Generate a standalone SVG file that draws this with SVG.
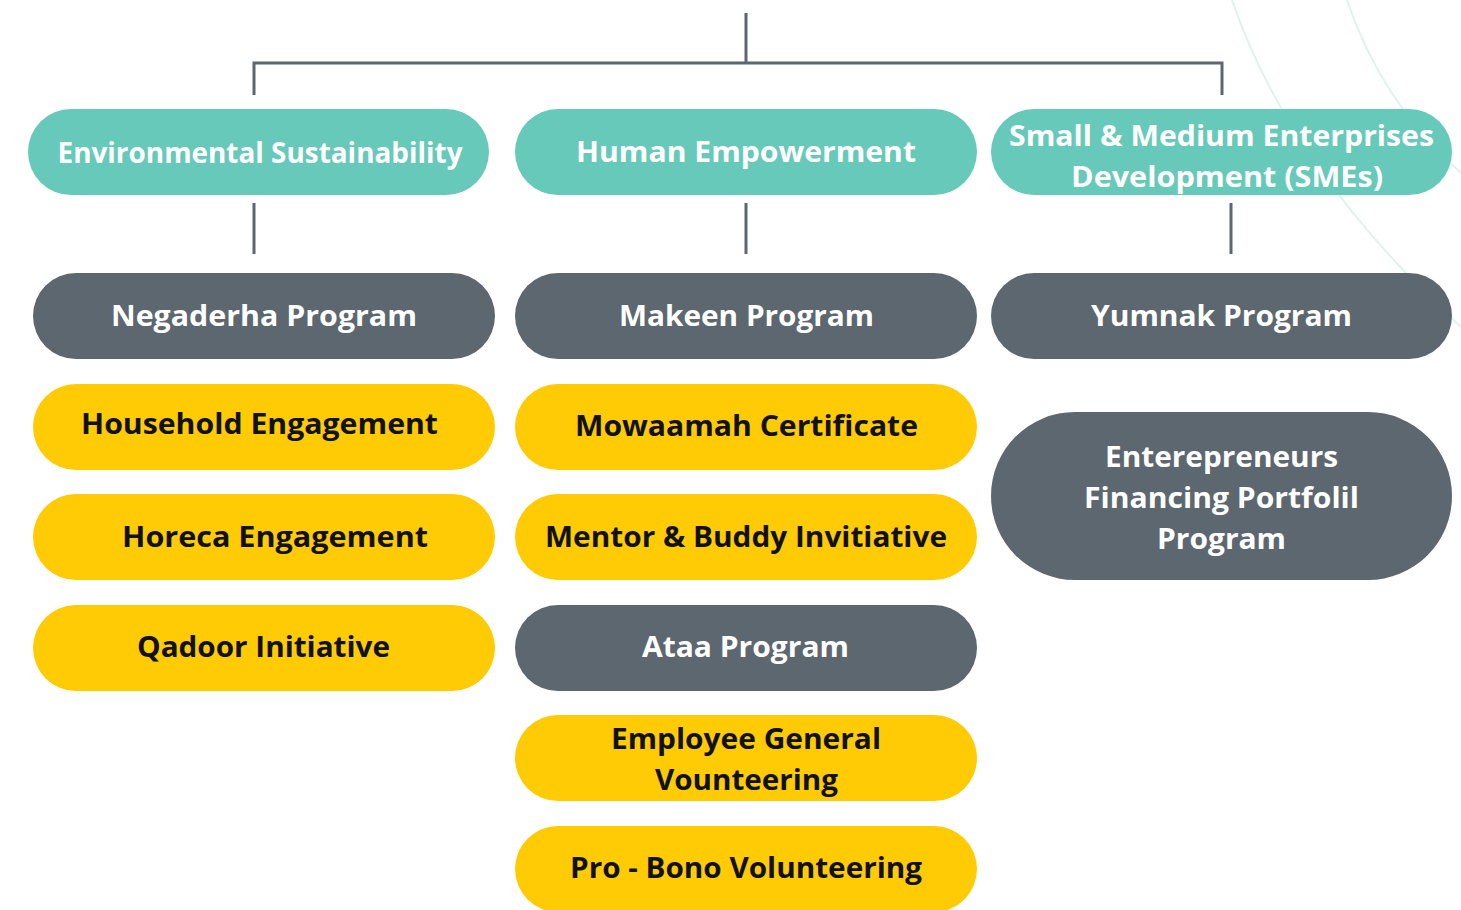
<svg xmlns="http://www.w3.org/2000/svg" width="1461" height="910" viewBox="0 0 1461 910">
<style>
.teal{fill:#67c9b9}
.gray{fill:#5d6770}
.yel{fill:#ffcb05}
text{font-family:"Open Sans","Noto Sans","Liberation Sans",sans-serif;font-weight:700;font-size:28px;text-anchor:middle}
.w{fill:#ffffff}
.k{fill:#111111}
.conn{stroke:#5d6770;stroke-width:3;fill:none}
.arc{stroke:#dff3ee;stroke-width:2;fill:none}
</style>
<rect width="1461" height="910" fill="#ffffff"/>
<path class="arc" d="M1232,0 Q1290,170 1461,327"/>
<path class="arc" d="M1347,0 Q1380,100 1461,173"/>
<g id="connectors">
<path class="conn" d="M746,13 V63 M254,95 V63 H1222 V95"/>
<path class="conn" d="M254,203 V254 M746,203 V254 M1231,203 V254"/>
</g>
<g id="n-env"><rect class="teal" x="28" y="109" width="461" height="86" rx="43"/><text class="w" x="260" y="163" textLength="405" lengthAdjust="spacingAndGlyphs">Environmental Sustainability</text></g>
<g id="n-human"><rect class="teal" x="515" y="109" width="462" height="86" rx="43"/><text class="w" x="746" y="162" textLength="340" lengthAdjust="spacingAndGlyphs">Human Empowerment</text></g>
<g id="n-sme"><rect class="teal" x="991" y="109" width="461" height="86" rx="43"/><text class="w" x="1221.5" y="146" textLength="425" lengthAdjust="spacingAndGlyphs">Small &amp; Medium Enterprises</text><text class="w" x="1227" y="187" textLength="312" lengthAdjust="spacingAndGlyphs">Development (SMEs)</text></g>
<g id="n-negaderha"><rect class="gray" x="33" y="273" width="462" height="86" rx="43"/><text class="w" x="264" y="326" textLength="306" lengthAdjust="spacingAndGlyphs">Negaderha Program</text></g>
<g id="n-makeen"><rect class="gray" x="515" y="273" width="462" height="86" rx="43"/><text class="w" x="746.5" y="326" textLength="255" lengthAdjust="spacingAndGlyphs">Makeen Program</text></g>
<g id="n-yumnak"><rect class="gray" x="991" y="273" width="461" height="86" rx="43"/><text class="w" x="1221.5" y="326" textLength="261" lengthAdjust="spacingAndGlyphs">Yumnak Program</text></g>
<g id="n-household"><rect class="yel" x="33" y="384" width="462" height="86" rx="43"/><text class="k" x="259.5" y="434" textLength="357" lengthAdjust="spacingAndGlyphs">Household Engagement</text></g>
<g id="n-horeca"><rect class="yel" x="33" y="494" width="462" height="86" rx="43"/><text class="k" x="275" y="547" textLength="306" lengthAdjust="spacingAndGlyphs">Horeca Engagement</text></g>
<g id="n-qadoor"><rect class="yel" x="33" y="605" width="462" height="86" rx="43"/><text class="k" x="263.5" y="657" textLength="253" lengthAdjust="spacingAndGlyphs">Qadoor Initiative</text></g>
<g id="n-mowaamah"><rect class="yel" x="515" y="384" width="462" height="86" rx="43"/><text class="k" x="746.5" y="436" textLength="343" lengthAdjust="spacingAndGlyphs">Mowaamah Certificate</text></g>
<g id="n-mentor"><rect class="yel" x="515" y="494" width="462" height="86" rx="43"/><text class="k" x="746" y="547" textLength="402" lengthAdjust="spacingAndGlyphs">Mentor &amp; Buddy Invitiative</text></g>
<g id="n-ataa"><rect class="gray" x="515" y="605" width="462" height="86" rx="43"/><text class="w" x="745.5" y="657" textLength="207" lengthAdjust="spacingAndGlyphs">Ataa Program</text></g>
<g id="n-employee"><rect class="yel" x="515" y="715" width="462" height="86" rx="43"/><text class="k" x="746" y="749" textLength="270" lengthAdjust="spacingAndGlyphs">Employee General</text><text class="k" x="746.5" y="790" textLength="183" lengthAdjust="spacingAndGlyphs">Vounteering</text></g>
<g id="n-probono"><rect class="yel" x="515" y="826" width="462" height="86" rx="43"/><text class="k" x="746" y="878" textLength="352" lengthAdjust="spacingAndGlyphs">Pro - Bono Volunteering</text></g>
<g id="n-efp"><rect class="gray" x="991" y="412" width="461" height="168" rx="84"/><text class="w" x="1221.5" y="467" textLength="233" lengthAdjust="spacingAndGlyphs">Enterepreneurs</text><text class="w" x="1221.5" y="508" textLength="275" lengthAdjust="spacingAndGlyphs">Financing Portfolil</text><text class="w" x="1221.5" y="549" textLength="129" lengthAdjust="spacingAndGlyphs">Program</text></g>
</svg>
